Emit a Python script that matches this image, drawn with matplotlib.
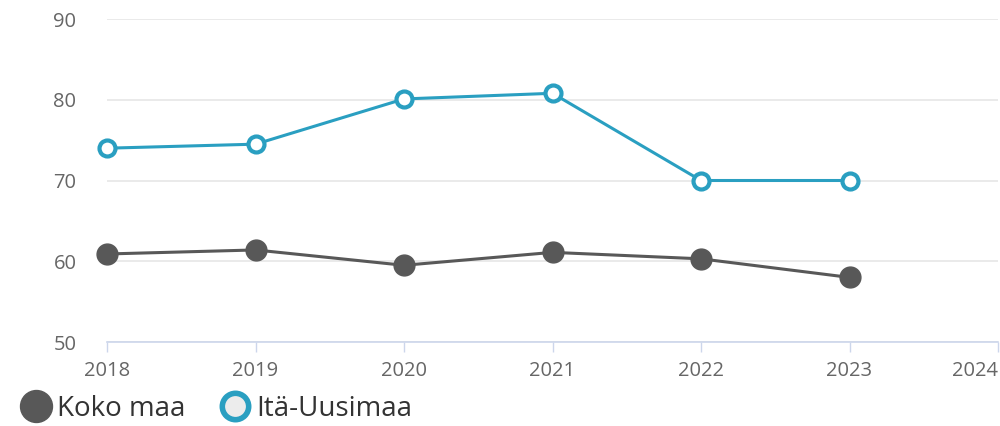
import matplotlib as mpl
import matplotlib.pyplot as plt
from matplotlib.lines import Line2D

# data
years = [2018, 2019, 2020, 2021, 2022, 2023]
koko_maa = [60.9, 61.4, 59.5, 61.1, 60.3, 58.0]
ita_uusimaa = [74.0, 74.5, 80.1, 80.8, 70.0, 70.0]
x_ticks = [2018, 2019, 2020, 2021, 2022, 2023, 2024]
y_ticks = [50, 60, 70, 80, 90]

GRAY = "#585858"
TEAL = "#2a9fc1"

mpl.rcParams.update({"font.family": ["Open Sans", "DejaVu Sans"]})

fig = plt.figure(figsize=(10, 4.26), dpi=100)
ax = fig.add_axes([0.107, 1 - 342 / 426, 0.891, (342 - 19) / 426])

ax.plot(years, koko_maa, color=GRAY, lw=2.2, marker="o", ms=15,
        mfc=GRAY, mec=GRAY, zorder=3, clip_on=False)
ax.plot(years, ita_uusimaa, color=TEAL, lw=2.2, marker="o", ms=11.5,
        mfc="white", mec=TEAL, mew=3, zorder=3, clip_on=False)

ax.set_xlim(2018, 2024)
ax.set_ylim(50, 90)
ax.set_xticks(x_ticks)
ax.set_yticks(y_ticks)
ax.set_xticklabels([str(t) for t in x_ticks])
# last label would run off the edge, keep it inside like the original
ax.get_xticklabels()[-1].set_horizontalalignment("right")

# grid + axis styling
ax.grid(axis="y", color="#e6e6e6", lw=1.2)
ax.set_axisbelow(True)
for s in ["top", "right", "left"]:
    ax.spines[s].set_visible(False)
ax.spines["bottom"].set_color("#ccd6eb")
ax.spines["bottom"].set_linewidth(1.2)

ax.tick_params(axis="x", length=7, width=1, color="#ccd6eb", pad=7,
               labelsize=14.5, labelcolor="#666666")
ax.tick_params(axis="y", length=0, pad=22, labelsize=14.5, labelcolor="#666666")

# legend: symbols only, like the original
handles = [
    Line2D([], [], ls="none", marker="o", ms=23, mfc=GRAY, mec=GRAY),
    Line2D([], [], ls="none", marker="o", ms=19, mfc="#ececec", mec=TEAL, mew=4),
]
fig.legend(handles, ["Koko maa", "Itä-Uusimaa"], loc="center left",
           bbox_to_anchor=(0.0, 1 - 409 / 426), ncol=2, frameon=False,
           fontsize=20, labelcolor="#333333", handlelength=1.2,
           handletextpad=0.15, columnspacing=1.2, borderaxespad=0.3)

fig.savefig("out.png", dpi=100)
